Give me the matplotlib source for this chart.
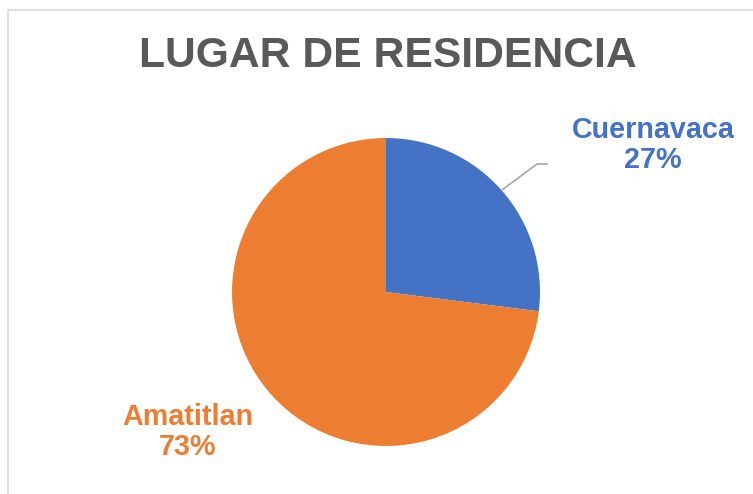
import matplotlib.pyplot as plt
from matplotlib.patches import Rectangle

# Lugar de residencia (porcentaje)
categories = ['Cuernavaca', 'Amatitlan']
values = [27, 73]
colors = ['#4472C4', '#ED7D31']

W, H = 753, 494
fig = plt.figure(figsize=(W / 100, H / 100), dpi=100)
ax = fig.add_axes([0, 0, 1, 1])

def py(y):
    # pixel row -> data y
    return H - y

# chart border
ax.add_patch(Rectangle((8, py(500)), 760, 490, fill=False,
                       edgecolor='#D9D9D9', linewidth=1.2))

cx, cy, r = 386, py(292), 154
ax.pie(values, colors=colors, startangle=90, counterclock=False,
       center=(cx, cy), radius=r, frame=True,
       wedgeprops=dict(linewidth=0))
ax.set_xlim(0, W)
ax.set_ylim(0, H)
ax.set_aspect('equal')
ax.axis('off')

font = ['Liberation Sans', 'DejaVu Sans']
ax.text(388, py(56), 'LUGAR DE RESIDENCIA', ha='center', va='center',
        fontsize=30.7, fontweight='bold', color='#595959', family=font)

# data labels
label_pos = [(653, py(145)), (188, py(432))]
for name, v, c, (lx, ly) in zip(categories, values, colors, label_pos):
    ax.text(lx, ly, f'{name}\n{v}%', ha='center', va='center',
            fontsize=20.7, fontweight='bold', color=c, family=font,
            linespacing=1.1)

# leader line for Cuernavaca
ax.plot([502, 537, 548], [py(190), py(164), py(164)],
        color='#A6A6A6', linewidth=1.2, solid_capstyle='butt')

fig.savefig('out.png', dpi=100)
